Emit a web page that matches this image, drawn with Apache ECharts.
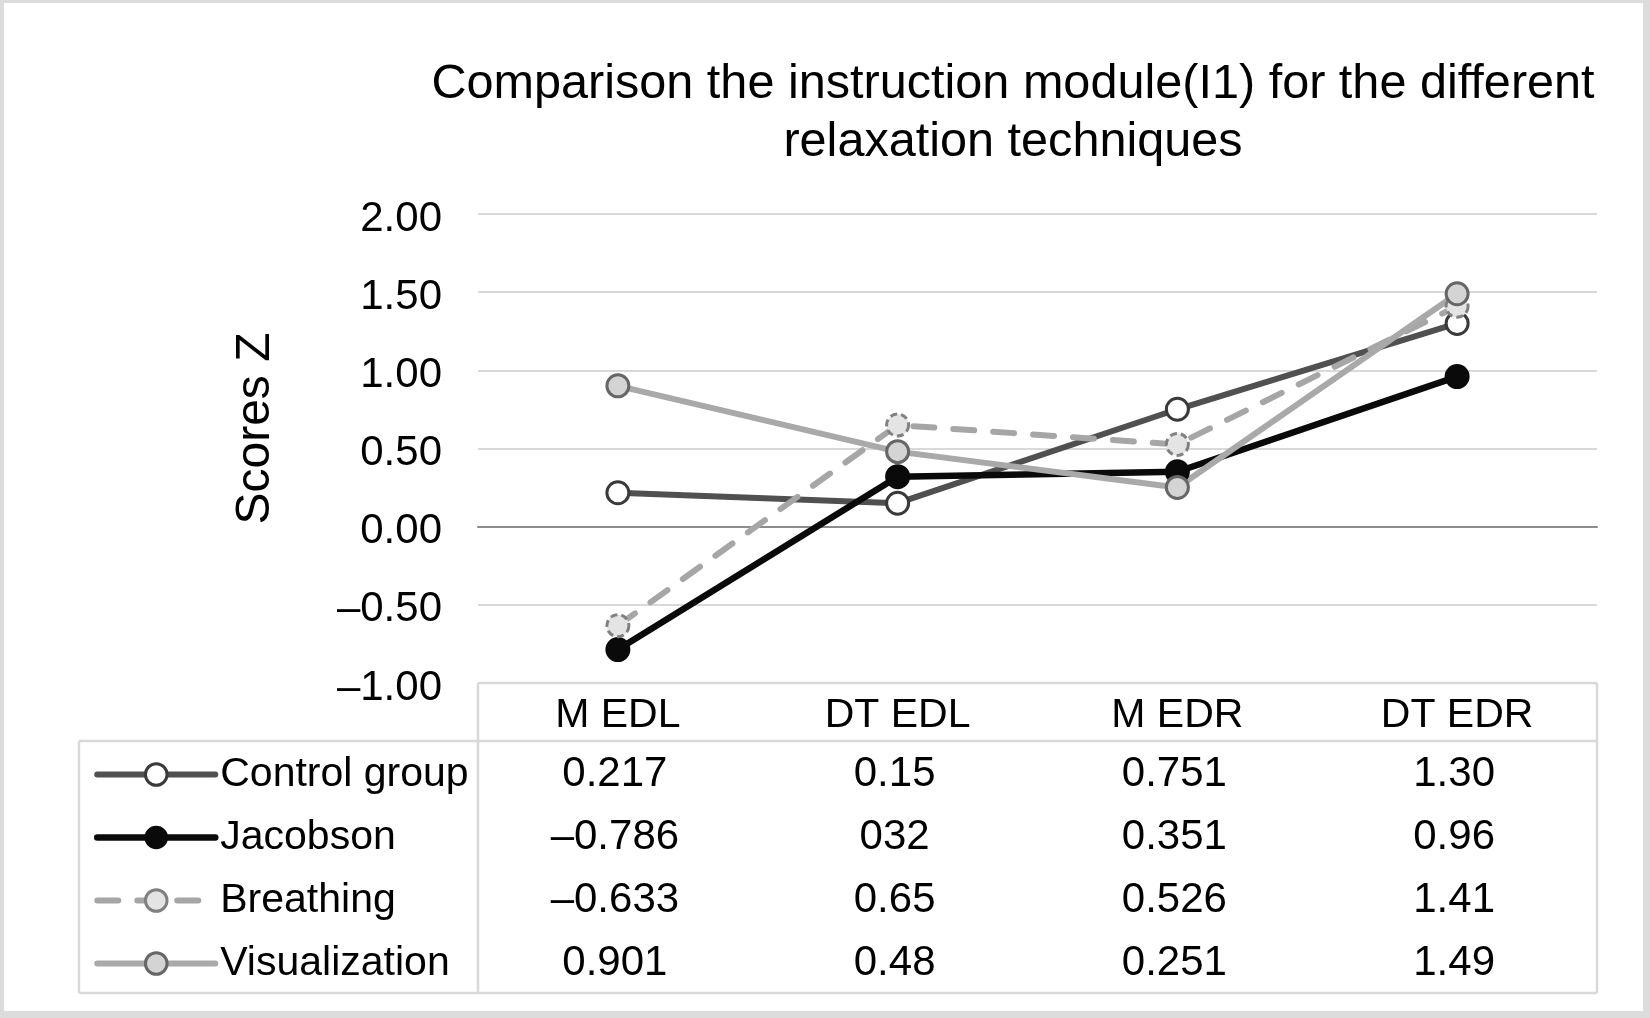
<!DOCTYPE html>
<html>
<head>
<meta charset="utf-8">
<script src="https://cdn.jsdelivr.net/npm/echarts@6/dist/echarts.min.js"></script>
<style>
html,body{margin:0;padding:0;background:#ffffff;}
#chart{width:1650px;height:1018px;}
</style>
</head>
<body>
<div id="chart"></div>
<script>
// ---- data ----
const categories = ['M EDL', 'DT EDL', 'M EDR', 'DT EDR'];
const seriesNames = ['Control group', 'Jacobson', 'Breathing', 'Visualization'];
const controlValues = [0.217, 0.15, 0.751, 1.30];
const jacobsonValues = [-0.786, 0.32, 0.351, 0.96];
const breathingValues = [-0.633, 0.65, 0.526, 1.41];
const visualizationValues = [0.901, 0.48, 0.251, 1.49];
// data-table texts as printed in the source
const controlLabels = ['0.217', '0.15', '0.751', '1.30'];
const jacobsonLabels = ['\u20130.786', '032', '0.351', '0.96'];
const breathingLabels = ['\u20130.633', '0.65', '0.526', '1.41'];
const visualizationLabels = ['0.901', '0.48', '0.251', '1.49'];
const yMin = -1, yMax = 2, yInterval = 0.5;
const titleText = 'Comparison the instruction module(I1) for the different\nrelaxation techniques';
const yAxisTitle = 'Scores Z';

// ---- layout ----
const FONT = '"Liberation Sans", Arial, Helvetica, sans-serif';
const W = 1650, H = 1018;
const gridLeft = 478, gridRight = 1597, gridTop = 214, gridBottom = 683;
const headerBottom = 741, tableBottom = 993, tableLeft = 79;
const rowH = (tableBottom - headerBottom) / 4;
const borderColor = '#d9d9d9';

const chart = echarts.init(document.getElementById('chart'), null, {renderer: 'canvas', width: W, height: H});

const fmt = v => v.toFixed(2).replace('-', '\u2013');

const option = {
  animation: false,
  backgroundColor: '#ffffff',
  textStyle: {fontFamily: FONT},
  title: {
    text: titleText,
    left: 1013,
    top: 56,
    padding: 0,
    textAlign: 'center',
    textStyle: {fontFamily: FONT, fontSize: 48.6, fontWeight: 'normal', color: '#000000', lineHeight: 58}
  },
  grid: {
    left: gridLeft, top: gridTop,
    width: gridRight - gridLeft, height: gridBottom - gridTop,
    containLabel: false, outerBoundsMode: 'none'
  },
  legend: {
    data: seriesNames,
    orient: 'vertical',
    left: 94, top: headerBottom + 2,
    padding: 0, itemGap: 0,
    itemWidth: 118, itemHeight: 27,
    selectedMode: false,
    lineStyle: {width: 'inherit'},
    itemStyle: {borderWidth: 'inherit'},
    textStyle: {fontFamily: FONT, fontSize: 41, color: '#000000', lineHeight: rowH}
  },
  xAxis: [{
    type: 'category',
    data: categories,
    boundaryGap: true,
    axisLine: {show: false, onZero: false},
    axisTick: {show: false},
    splitLine: {show: false},
    axisLabel: {fontFamily: FONT, fontSize: 41, color: '#000000', margin: 33, verticalAlign: 'middle'}
  }, {
    type: 'category',
    data: categories,
    boundaryGap: true,
    position: 'bottom',
    axisLine: {show: true, onZero: true, lineStyle: {color: '#8c8c8c', width: 2}},
    axisTick: {show: false},
    axisLabel: {show: false},
    splitLine: {show: false}
  }],
  yAxis: {
    type: 'value',
    min: yMin, max: yMax, interval: yInterval,
    name: yAxisTitle,
    nameLocation: 'middle',
    nameRotate: 90,
    nameGap: 198,
    nameTextStyle: {fontFamily: FONT, fontSize: 48, color: '#000000', padding: [0, 0, 0, 40]},
    axisLine: {show: false},
    axisTick: {show: false},
    axisLabel: {fontFamily: FONT, fontSize: 42, color: '#000000', margin: 36, formatter: fmt, verticalAlign: 'top', lineHeight: 10},
    splitLine: {lineStyle: {color: borderColor, width: 2}}
  },
  series: [{
    name: seriesNames[0], type: 'line', data: controlValues, xAxisIndex: 0,
    symbol: 'circle', symbolSize: 22,
    lineStyle: {color: '#505050', width: 6, cap: 'round'},
    itemStyle: {color: '#ffffff', borderColor: '#3a3a3a', borderWidth: 3},
    emphasis: {disabled: true}
  }, {
    name: seriesNames[1], type: 'line', data: jacobsonValues, xAxisIndex: 0,
    symbol: 'circle', symbolSize: 23,
    lineStyle: {color: '#0a0a0a', width: 6.5, cap: 'round'},
    itemStyle: {color: '#0a0a0a', borderColor: '#0a0a0a', borderWidth: 2},
    emphasis: {disabled: true}
  }, {
    name: seriesNames[2], type: 'line', data: breathingValues, xAxisIndex: 0,
    symbol: 'circle', symbolSize: 22,
    lineStyle: {color: '#a6a6a6', width: 6, type: [21, 19], cap: 'round'},
    itemStyle: {color: '#e4e4e4', borderColor: '#808080', borderWidth: 3, borderType: [7, 4]},
    emphasis: {disabled: true}
  }, {
    name: seriesNames[3], type: 'line', data: visualizationValues, xAxisIndex: 0,
    symbol: 'circle', symbolSize: 22,
    lineStyle: {color: '#a9a9a9', width: 6, cap: 'round'},
    itemStyle: {color: '#d4d4d4', borderColor: '#666666', borderWidth: 3},
    emphasis: {disabled: true}
  }]
};
chart.setOption(option);

// ---- data table drawn beneath the plot ----
const tableLabels = [controlLabels, jacobsonLabels, breathingLabels, visualizationLabels];
const graphics = [];
const line = (x1, y1, x2, y2) => ({
  type: 'line', silent: true, z: 1,
  shape: {x1, y1, x2, y2},
  style: {stroke: borderColor, lineWidth: 2.5}
});
graphics.push(line(gridLeft, gridBottom, gridRight, gridBottom));
graphics.push(line(tableLeft, headerBottom, gridRight, headerBottom));
graphics.push(line(tableLeft, tableBottom, gridRight, tableBottom));
graphics.push(line(gridLeft, gridBottom, gridLeft, tableBottom));
graphics.push(line(gridRight, gridBottom, gridRight, tableBottom));
graphics.push(line(tableLeft, headerBottom, tableLeft, tableBottom));

tableLabels.forEach((row, r) => {
  row.forEach((txt, c) => {
    const x = chart.convertToPixel({xAxisIndex: 0}, categories[c]);
    graphics.push({
      type: 'text', silent: true, z: 5,
      x: x - 3, y: headerBottom + 2 + rowH * (r + 0.5),
      style: {text: txt, fontFamily: FONT, fontSize: 42, fill: '#000000', align: 'center', verticalAlign: 'middle'}
    });
  });
});

// outer frame of the figure
const frameColor = '#dcdcdc';
graphics.push({type: 'rect', silent: true, z: 10, shape: {x: 0, y: 0, width: W, height: 3}, style: {fill: frameColor}});
graphics.push({type: 'rect', silent: true, z: 10, shape: {x: 0, y: 0, width: 4, height: H}, style: {fill: frameColor}});
graphics.push({type: 'rect', silent: true, z: 10, shape: {x: W - 7, y: 0, width: 7, height: H}, style: {fill: frameColor}});
graphics.push({type: 'rect', silent: true, z: 10, shape: {x: 0, y: H - 7, width: W, height: 7}, style: {fill: frameColor}});

chart.setOption({graphic: graphics});
</script>
</body>
</html>
